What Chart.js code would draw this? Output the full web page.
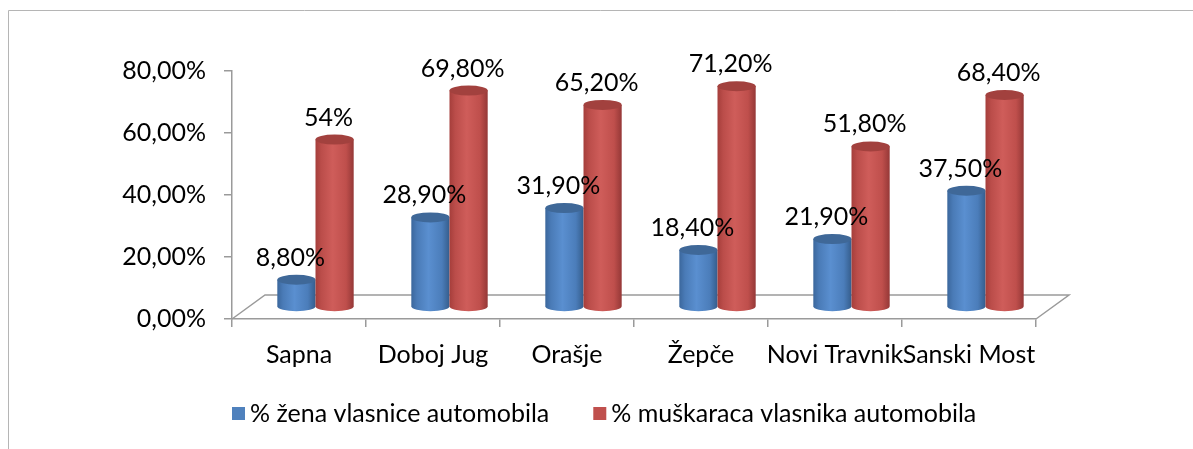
<!DOCTYPE html>
<html>
<head>
<meta charset="utf-8">
<script src="https://cdn.jsdelivr.net/npm/chart.js@4/dist/chart.umd.min.js"></script>
<style>
  html, body { margin: 0; padding: 0; background: #fff; }
  #wrap { width: 1193px; height: 449px; }
</style>
</head>
<body>
<div id="wrap"><canvas id="chart" width="1193" height="449"></canvas></div>
<script>
const gradovi = ['Sapna', 'Doboj Jug', 'Orašje', 'Žepče', 'Novi Travnik', 'Sanski Most'];
const zene = [8.8, 28.9, 31.9, 18.4, 21.9, 37.5];
const muskarci = [54, 69.8, 65.2, 71.2, 51.8, 68.4];
const zeneLabels = ['8,80%', '28,90%', '31,90%', '18,40%', '21,90%', '37,50%'];
const muskarciLabels = ['54%', '69,80%', '65,20%', '71,20%', '51,80%', '68,40%'];
const yTicks = [0, 20, 40, 60, 80];

const FONT = 'Lato';
const FS = 25;
const AXIS = '#9a9a9a';

// 3D depth of the floor, cylinders sit half way back
const DX = 33, DY = 24;

const shades = {
    blue: {
        stops: ['#3b679c', '#4a7bb7', '#5a8fd0', '#4b7dba', '#355d8c'],
        top: '#3f6898'
    },
    red: {
        stops: ['#a53e3b', '#bb4d4a', '#cf5d5a', '#bf4f4c', '#953837'],
        top: '#a2413e'
    }
};

function cylinder(ctx, cx, topY, baseY, w, sh) {
    const rx = w / 2, ry = 5;
    const g = ctx.createLinearGradient(cx - rx, 0, cx + rx, 0);
    const pos = [0, 0.15, 0.45, 0.8, 1];
    sh.stops.forEach((c, i) => g.addColorStop(pos[i], c));
    ctx.beginPath();
    ctx.moveTo(cx - rx, topY);
    ctx.lineTo(cx - rx, baseY);
    ctx.ellipse(cx, baseY, rx, ry, 0, Math.PI, 0, true);
    ctx.lineTo(cx + rx, topY);
    ctx.closePath();
    ctx.fillStyle = g;
    ctx.fill();
    ctx.beginPath();
    ctx.ellipse(cx, topY, rx, ry, 0, 0, Math.PI * 2);
    ctx.fillStyle = sh.top;
    ctx.fill();
}

const cylinders3d = {
    id: 'cylinders3d',
    beforeDatasetsDraw(chart) {
        const ctx = chart.ctx;
        const a = chart.chartArea;
        ctx.save();
        // floor
        ctx.strokeStyle = AXIS;
        ctx.lineWidth = 1.5;
        ctx.beginPath();
        ctx.moveTo(a.left, a.bottom);
        ctx.lineTo(a.left + DX, a.bottom - DY);
        ctx.lineTo(a.right + DX, a.bottom - DY);
        ctx.lineTo(a.right, a.bottom);
        ctx.stroke();

        const metas = [chart.getDatasetMeta(0), chart.getDatasetMeta(1)];
        const looks = [shades.blue, shades.red];
        const texts = [zeneLabels, muskarciLabels];
        const ox = DX / 2, oy = DY / 2;
        for (let i = 0; i < gradovi.length; i++) {
            metas.forEach((m, d) => {
                const b = m.data[i];
                cylinder(ctx, b.x + ox, b.y - oy, b.base - oy, b.width, looks[d]);
            });
        }
        ctx.fillStyle = '#000';
        ctx.font = FS + 'px ' + FONT;
        ctx.textAlign = 'center';
        ctx.textBaseline = 'alphabetic';
        for (let i = 0; i < gradovi.length; i++) {
            metas.forEach((m, d) => {
                const b = m.data[i];
                ctx.fillText(texts[d][i], b.x + ox - 6, b.y - oy - 14);
            });
        }
        ctx.restore();
        return false;
    },
    afterDraw(chart) {
        const ctx = chart.ctx;
        ctx.save();
        // outer frame
        ctx.strokeStyle = '#b5b5b5';
        ctx.lineWidth = 1;
        ctx.beginPath();
        ctx.moveTo(8.5, 449);
        ctx.lineTo(8.5, 10.5);
        ctx.lineTo(1193, 10.5);
        ctx.stroke();

        // legend
        ctx.font = FS + 'px ' + FONT;
        ctx.textBaseline = 'middle';
        ctx.textAlign = 'left';
        const items = chart.data.datasets.map(ds => ({ label: ds.label, color: ds.legendColor }));
        let x = 232;
        const y = 414;
        items.forEach(it => {
            ctx.fillStyle = it.color;
            ctx.fillRect(x, y - 7, 13, 13);
            ctx.fillStyle = '#000';
            ctx.fillText(it.label, x + 18, y);
            x += 18 + ctx.measureText(it.label).width + 44;
        });
        ctx.restore();
    }
};

Chart.defaults.font.family = FONT;
Chart.defaults.color = '#000';

new Chart(document.getElementById('chart'), {
    type: 'bar',
    data: {
        labels: gradovi,
        datasets: [{
            label: '% žena vlasnice automobila',
            data: zene,
            legendColor: '#4F81BD',
            backgroundColor: '#4F81BD'
        }, {
            label: '% muškaraca vlasnika automobila',
            data: muskarci,
            legendColor: '#C0504D',
            backgroundColor: '#C0504D'
        }]
    },
    options: {
        responsive: false,
        animation: false,
        categoryPercentage: 0.57,
        barPercentage: 1,
        layout: { padding: { left: 92, right: 157, top: 71, bottom: 66 } },
        plugins: {
            legend: { display: false },
            tooltip: { enabled: false }
        },
        scales: {
            x: {
                grid: { drawOnChartArea: false, tickLength: 8, color: AXIS, lineWidth: 1.5 },
                border: { color: AXIS, width: 1.5 },
                ticks: { font: { size: FS }, padding: 13, autoSkip: false, maxRotation: 0 }
            },
            y: {
                min: 0,
                max: 80,
                afterFit(scale) { scale.width = 140; },
                afterBuildTicks(scale) { scale.ticks = yTicks.map(v => ({ value: v })); },
                grid: { drawOnChartArea: false, tickLength: 8, color: AXIS, lineWidth: 1.5 },
                border: { color: AXIS, width: 1.5 },
                ticks: {
                    font: { size: FS },
                    padding: 18,
                    callback: v => v.toFixed(2).replace('.', ',') + '%'
                }
            }
        }
    },
    plugins: [cylinders3d]
});
</script>
</body>
</html>
